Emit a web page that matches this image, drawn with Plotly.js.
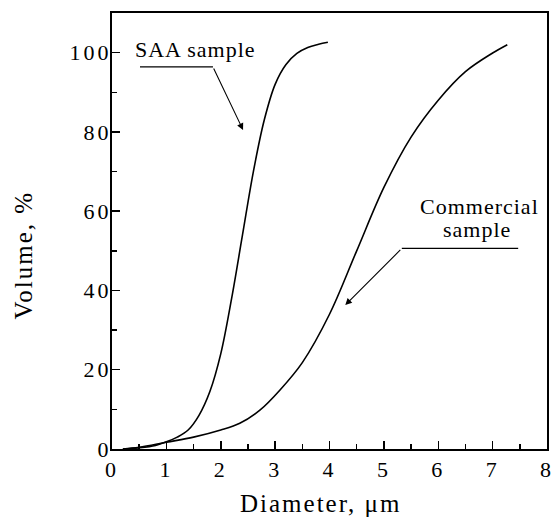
<!DOCTYPE html>
<html>
<head>
<meta charset="utf-8">
<script src="https://cdn.plot.ly/plotly-3.0.1.min.js"></script>
<style>
html,body{margin:0;padding:0;background:#fff;}
#chart{width:554px;height:520px;}
#chart g.xtick text, #chart g.ytick text{letter-spacing:3px;}
#chart g.annotation text.annotation-text{letter-spacing:1px;}
#chart g.annotation.axtitle text.annotation-text{letter-spacing:2px;}
</style>
</head>
<body>
<div id="chart"></div>
<script>
// SAA sample cumulative volume distribution
const saaDiameter = [0.2, 0.5, 0.8, 1.0, 1.2, 1.4, 1.6, 1.8, 2.0, 2.2, 2.4, 2.6, 2.8, 3.0, 3.2, 3.4, 3.6, 3.8, 3.97];
const saaVolume   = [0.0, 0.3, 0.9, 1.8, 3.0, 4.8, 8.5, 14.5, 24.0, 38.0, 54.0, 70.0, 83.0, 92.0, 97.0, 99.8, 101.3, 102.1, 102.6];
// Commercial sample cumulative volume distribution
const comDiameter = [0.2, 0.5, 1.0, 1.5, 2.0, 2.35, 2.72, 3.09, 3.5, 4.0, 4.5, 5.0, 5.5, 6.0, 6.5, 7.0, 7.27];
const comVolume   = [0.0, 0.4, 1.7, 3.0, 4.8, 6.5, 9.8, 14.9, 21.8, 34.0, 50.0, 66.0, 78.7, 88.0, 95.2, 99.9, 102.0];
const xTicks = [0, 1, 2, 3, 4, 5, 6, 7, 8];
const yTicks = [0, 20, 40, 60, 80, 100];
const labelSAA = 'SAA sample';
const labelComLine1 = 'Commercial';
const labelComLine2 = 'sample';
const xTitle = 'Diameter, μm';
const yTitle = 'Volume, %';

const font = 'Liberation Serif';
const traces = [
  {x: saaDiameter, y: saaVolume, mode: 'lines', line: {color: '#000', width: 1.6, shape: 'spline', smoothing: 1}, hoverinfo: 'skip'},
  {x: comDiameter, y: comVolume, mode: 'lines', line: {color: '#000', width: 1.6, shape: 'spline', smoothing: 1}, hoverinfo: 'skip'}
];
const axisCommon = {
  showline: true, mirror: true, linecolor: '#000', linewidth: 2,
  ticks: 'inside', ticklen: 8, tickwidth: 1.5, tickcolor: '#000',
  showgrid: false, zeroline: false,
  tickfont: {family: font, size: 22, color: '#000'},
  minor: {ticks: 'inside', ticklen: 5, tickwidth: 1.5, tickcolor: '#000', showgrid: false}
};
const annFont = {family: font, size: 22, color: '#000'};
const titleFont = {family: font, size: 25, color: '#000'};
const layout = {
  width: 554, height: 520,
  margin: {l: 112, r: 7, t: 13, b: 71},
  paper_bgcolor: '#fff', plot_bgcolor: '#fff',
  showlegend: false,
  font: {family: font, color: '#000'},
  xaxis: Object.assign({}, axisCommon, {
    range: [0, 8], tickvals: xTicks, ticktext: xTicks.map(String),
    minor: Object.assign({}, axisCommon.minor, {dtick: 0.5, tick0: 0})
  }),
  yaxis: Object.assign({}, axisCommon, {
    range: [0, 110], tickvals: yTicks, ticktext: yTicks.map(String),
    ticklabelstandoff: -6,
    minor: Object.assign({}, axisCommon.minor, {dtick: 10, tick0: 0})
  }),
  shapes: [
    {type: 'line', xref: 'x', yref: 'y', x0: 0.515, x1: 1.857, y0: 96.4, y1: 96.4, line: {color: '#000', width: 1.2}},
    {type: 'line', xref: 'x', yref: 'y', x0: 5.33, x1: 7.47, y0: 50.6, y1: 50.6, line: {color: '#000', width: 1.2}}
  ],
  annotations: [
    {x: 1.53, y: 100.8, xref: 'x', yref: 'y', text: labelSAA, showarrow: false, font: annFont},
    {x: 6.75, y: 61.1, xref: 'x', yref: 'y', text: labelComLine1, showarrow: false, font: annFont},
    {x: 6.72, y: 55.4, xref: 'x', yref: 'y', text: labelComLine2, showarrow: false, font: annFont},
    {x: 2.41, y: 80.5, ax: 1.857, ay: 96.4, xref: 'x', yref: 'y', axref: 'x', ayref: 'y', text: '', showarrow: true, arrowhead: 2, arrowsize: 1.2, arrowwidth: 1.1, arrowcolor: '#000'},
    {x: 4.29, y: 36.3, ax: 5.33, ay: 50.6, xref: 'x', yref: 'y', axref: 'x', ayref: 'y', text: '', showarrow: true, arrowhead: 2, arrowsize: 1.2, arrowwidth: 1.1, arrowcolor: '#000'},
    {x: 0.4805, y: -0.126, xref: 'paper', yref: 'paper', xanchor: 'center', yanchor: 'middle', text: xTitle, showarrow: false, font: titleFont},
    {x: -0.2034, y: 0.445, xref: 'paper', yref: 'paper', xanchor: 'center', yanchor: 'middle', text: yTitle, textangle: -90, showarrow: false, font: titleFont}
  ]
};
Plotly.newPlot('chart', traces, layout, {staticPlot: true, displayModeBar: false}).then(function () {
  const anns = document.querySelectorAll('#chart g.annotation');
  const n = anns.length;
  if (n >= 2) { anns[n - 1].classList.add('axtitle'); anns[n - 2].classList.add('axtitle'); }
});
</script>
</body>
</html>
